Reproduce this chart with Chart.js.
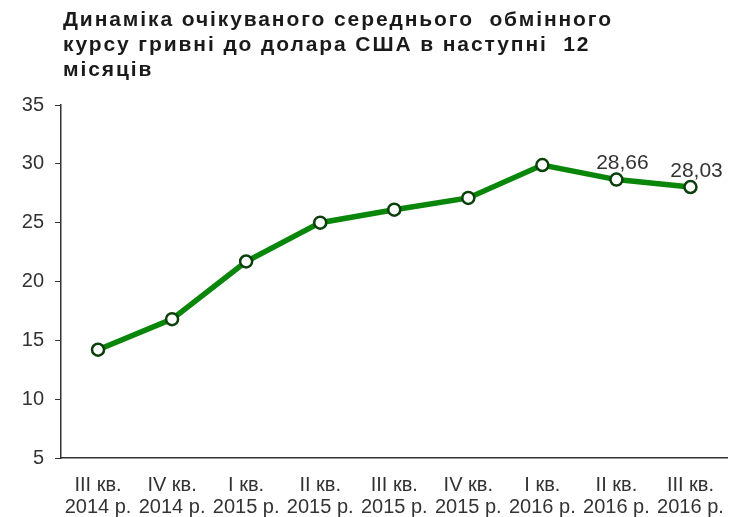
<!DOCTYPE html>
<html>
<head>
<meta charset="utf-8">
<script src="https://cdn.jsdelivr.net/npm/chart.js@4"></script>
<style>
  html, body { margin: 0; padding: 0; background: #fff; overflow: hidden; }
  #wrap { width: 736px; height: 517px; }
</style>
</head>
<body>
<div id="wrap"><canvas id="rateChart" width="736" height="517"></canvas></div>
<script>
const titleLines = ['Динаміка очікуваного середнього  обмінного', 'курсу гривні до долара США в наступні  12', 'місяців'];
const quarters = [
  ['III кв.', '2014 р.'], ['IV кв.', '2014 р.'], ['I кв.', '2015 р.'],
  ['II кв.', '2015 р.'], ['III кв.', '2015 р.'], ['IV кв.', '2015 р.'],
  ['I кв.', '2016 р.'], ['II кв.', '2016 р.'], ['III кв.', '2016 р.']
];
const expectedRate = [14.2, 16.8, 21.7, 25.0, 26.1, 27.1, 29.9, 28.66, 28.03];
const labelledPoints = [7, 8];
const yMin = 5, yMax = 35, yStep = 5;

const FONT = "'Liberation Sans', Arial, sans-serif";

// заголовок з трохи розрідженим інтервалом між літерами (як у оригіналі)
const spacedTitle = {
  id: 'spacedTitle',
  afterDraw(chart) {
    const ctx = chart.ctx;
    ctx.save();
    ctx.font = `bold 21px ${FONT}`;
    ctx.letterSpacing = '1.9px';
    ctx.fillStyle = '#1a1a1a';
    ctx.textAlign = 'left';
    ctx.textBaseline = 'alphabetic';
    titleLines.forEach((line, i) => ctx.fillText(line, 63, 26 + i * 24.8));
    ctx.restore();
  }
};

// підписи значень над останніми точками
const valueLabels = {
  id: 'valueLabels',
  afterDatasetsDraw(chart) {
    const ctx = chart.ctx;
    const meta = chart.getDatasetMeta(0);
    ctx.save();
    ctx.font = `21px ${FONT}`;
    ctx.fillStyle = '#333';
    ctx.textAlign = 'center';
    ctx.textBaseline = 'middle';
    labelledPoints.forEach(i => {
      const p = meta.data[i];
      ctx.fillText(expectedRate[i].toFixed(2).replace('.', ','), p.x + 6, p.y - 16);
    });
    ctx.restore();
  }
};

new Chart(document.getElementById('rateChart').getContext('2d'), {
  type: 'line',
  data: {
    labels: quarters,
    datasets: [{
      data: expectedRate,
      borderColor: '#0a870a',
      borderWidth: 5.5,
      tension: 0,
      pointRadius: 6,
      pointBorderWidth: 2.5,
      pointBackgroundColor: '#fff',
      pointBorderColor: '#0b3f0b'
    }]
  },
  options: {
    responsive: false,
    animation: false,
    layout: { padding: { top: 105, left: 0, right: 0, bottom: 0 } },
    plugins: {
      legend: { display: false },
      tooltip: { enabled: false },
      title: { display: false }
    },
    scales: {
      x: {
        offset: true,
        grid: { display: false, offset: true, drawTicks: true, tickLength: 6, color: '#333' },
        border: { display: true, color: '#333', width: 1.5 },
        ticks: { color: '#333', font: { family: FONT, size: 20, lineHeight: 1.1 }, padding: 10, maxRotation: 0, autoSkip: false },
        afterFit(scale) { scale.height = 59; }
      },
      y: {
        min: yMin, max: yMax,
        grid: { display: true, drawOnChartArea: false, tickLength: 6, color: '#333' },
        border: { display: true, color: '#333', width: 1.5 },
        ticks: { stepSize: yStep, color: '#333', font: { family: FONT, size: 20 }, padding: 11 },
        afterFit(scale) { scale.width = 61; }
      }
    }
  },
  plugins: [spacedTitle, valueLabels]
});
</script>
</body>
</html>
